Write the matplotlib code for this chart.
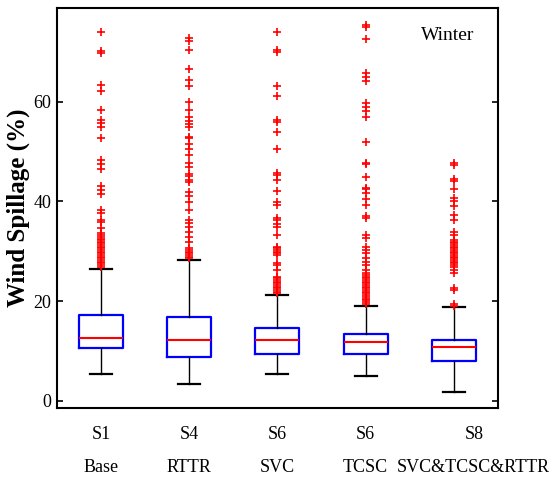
import numpy as np
import matplotlib.pyplot as plt
import matplotlib.transforms as mtransforms

plt.rcParams['font.family'] = ['Liberation Serif', 'DejaVu Serif']

# x axis labels
scenarios = ["S1", "S4", "S6", "S6", "S8"]
devices = ["Base", "RTTR", "SVC", "TCSC", "SVC&TCSC&RTTR"]

# box statistics (wind spillage, %)
whis_lo = [5.3, 3.4, 5.3, 4.9, 1.8]
q1 = [10.6, 8.7, 9.4, 9.4, 7.9]
med = [12.6, 12.2, 12.2, 11.8, 10.7]
q3 = [17.1, 16.8, 14.5, 13.4, 12.2]
whis_hi = [26.5, 28.3, 21.3, 19.1, 18.7]

# outliers (red +)
fliers_s1 = [74.1, 70.1, 69.8, 63.4, 62.1, 58.3, 56.4, 55.7, 54.9, 52.8,
             48.3, 47.5, 46.5, 43.0, 42.2, 41.5, 38.3, 37.6, 36.3, 35.9,
             34.6, 33.6, 33.2, 32.9, 32.5, 32.3, 31.9, 31.6, 31.2, 30.9,
             30.6, 30.3, 29.9, 29.6, 29.3, 28.9, 28.6, 28.2, 27.9, 27.6,
             27.2, 26.9]
fliers_s4 = [72.8, 72.3, 70.3, 66.6, 64.4, 63.1, 59.9, 58.3, 56.9, 56.2,
             55.6, 54.9, 53.0, 52.7, 51.6, 50.5, 49.3, 47.7, 47.0, 45.5,
             45.1, 44.2, 43.8, 41.8, 41.1, 39.8, 38.2, 36.3, 35.6, 34.9,
             33.9, 32.9, 31.9, 30.6, 30.3, 29.9, 29.6, 29.2, 28.9, 28.6]
fliers_svc = [74.1, 70.3, 69.9, 63.2, 61.2, 56.4, 56.0, 53.9, 50.6, 45.7,
              45.3, 44.3, 42.0, 39.8, 39.3, 36.6, 36.3, 35.5, 34.8, 33.3,
              30.9, 30.6, 30.3, 29.9, 29.6, 29.2, 27.6, 27.2, 26.2, 24.9,
              24.6, 24.2, 23.9, 23.6, 23.2, 22.9, 22.6, 22.2, 21.9, 21.6]
fliers_tcsc = [75.5, 75.0, 72.7, 65.8, 65.0, 64.1, 59.7, 58.9, 58.1, 56.9,
               52.0, 47.7, 47.5, 44.9, 42.6, 42.4, 41.6, 40.5, 39.3, 37.1,
               36.6, 33.3, 32.6, 30.9, 30.3, 29.6, 28.6, 27.9, 27.2, 26.2,
               25.6, 25.2, 24.9, 24.6, 24.2, 23.9, 23.6, 23.2, 22.9, 22.6,
               22.2, 21.9, 21.6, 21.2, 20.9, 20.5, 20.2, 19.9, 19.5]
fliers_s8 = [47.7, 47.3, 44.5, 44.0, 42.5, 40.6, 40.0, 39.1, 37.3, 36.3,
             33.9, 33.3, 32.3, 31.9, 31.6, 31.2, 30.9, 30.6, 30.3, 29.9,
             29.6, 29.2, 28.9, 28.6, 28.2, 27.9, 27.6, 27.2, 26.9, 26.2,
             25.6, 22.6, 22.2, 19.4, 19.0]
fliers = [fliers_s1, fliers_s4, fliers_svc, fliers_tcsc, fliers_s8]

stats = []
for i in range(len(scenarios)):
    stats.append(dict(whislo=whis_lo[i], q1=q1[i], med=med[i], q3=q3[i],
                      whishi=whis_hi[i], fliers=np.array(fliers[i])))

fig = plt.figure(figsize=(5.52, 4.79), dpi=100)
ax = fig.add_axes([0.103, 0.148, 0.799, 0.835])

ax.bxp(stats, positions=range(1, 6), widths=0.5, showfliers=True,
       boxprops=dict(color='#0000ff', linewidth=1.6),
       medianprops=dict(color='#ff0000', linewidth=1.5),
       whiskerprops=dict(color='black', linewidth=1.0),
       capprops=dict(color='black', linewidth=1.6),
       flierprops=dict(marker='+', markeredgecolor='#ff0000',
                       markersize=5.5, markeredgewidth=1.2, linestyle='none'))

ax.set_xlim(0.5, 5.5)
ax.set_ylim(-1.5, 78.8)
ax.set_yticks([0, 20, 40, 60])
ax.tick_params(axis='y', direction='in', length=4, width=1.2, labelsize=13,
               right=True, pad=4)
ax.set_xticks(range(1, 6))
ax.set_xticklabels([s + "\n" + d for s, d in zip(scenarios, devices)],
                   fontsize=13, linespacing=2.2)
ax.tick_params(axis='x', length=0, pad=13)

# the long last label sits a bit to the right, as in the original
offset = mtransforms.ScaledTranslation(0.2, 0, fig.dpi_scale_trans)
last = ax.get_xticklabels()[-1]
last.set_transform(last.get_transform() + offset)

for sp in ax.spines.values():
    sp.set_linewidth(1.5)

ax.set_ylabel("Wind Spillage (%)", fontsize=18, fontweight='bold')
ax.yaxis.set_label_coords(-0.062, 0.5)

ax.text(0.887, 0.9325, "Winter", transform=ax.transAxes, ha='center',
        va='center', fontsize=14)

fig.savefig('out.png', dpi=100)
